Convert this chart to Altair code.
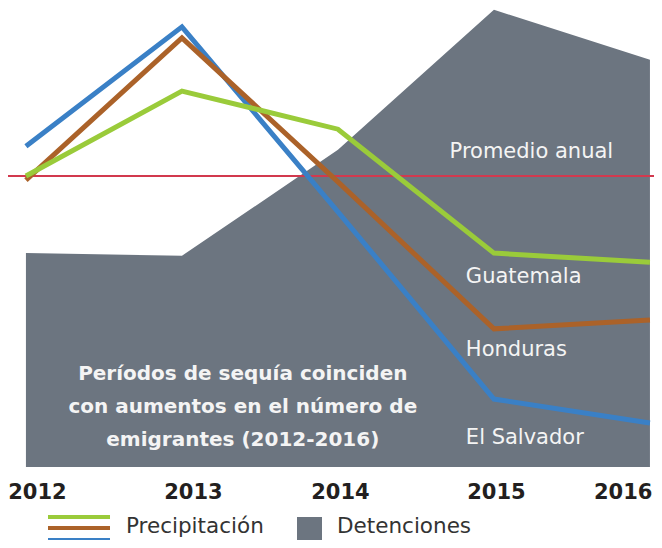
import altair as alt
import pandas as pd

# ---- data (y in relative index units 0-100) ----
years = [2012, 2013, 2014, 2015, 2016]
detenciones = [46.6, 46.0, 69.1, 99.6, 88.7]
guatemala = [63.4, 81.9, 73.6, 46.6, 44.6]
honduras = [62.5, 93.5, 62.1, 30.1, 32.0]
el_salvador = [69.9, 95.9, 55.6, 14.8, 9.6]
promedio_anual = 63.4

paises = ["El Salvador", "Honduras", "Guatemala"]
series = [el_salvador, honduras, guatemala]
colores = ["#3a80c6", "#ab6229", "#9acb3a"]

legend_labels = ["Precipitación", "Detenciones"]
nota = ["Períodos de sequía coinciden", "con aumentos en el número de", "emigrantes (2012-2016)"]

FONT = "DejaVu Sans"
GRAY = "#6c7580"

x_scale = alt.Scale(domain=[2011.885, 2016.026], nice=False, zero=False)
y_scale = alt.Scale(domain=[0, 100], nice=False, zero=False)

area_df = pd.DataFrame({"year": years, "value": detenciones})

x_axis = alt.Axis(
    values=years, format="d", title=None, domain=False, ticks=False, grid=False,
    labelFont=FONT, labelFontSize=21, labelFontWeight="bold", labelColor="#231f20",
    labelPadding=14, labelFlush=False,
    labelAlign={"condition": {"test": "datum.value == 2016", "value": "right"}, "value": "center"},
    labelOffset={"condition": {"test": "datum.value <= 2013", "value": 11}, "value": 2},
)

X = alt.X("year:Q", scale=x_scale)
Y = alt.Y("value:Q", scale=y_scale, axis=None)

area = alt.Chart(area_df).mark_area(color=GRAY, opacity=1).encode(
    x=alt.X("year:Q", scale=x_scale, axis=x_axis),
    y=Y,
)

prom = alt.Chart(pd.DataFrame({"value": [promedio_anual]})).mark_rule(
    color="#d2394e", strokeWidth=2
).encode(y=Y)

line_layers = []
for pais, vals, col in zip(paises, series, colores):
    df = pd.DataFrame({"year": years, "value": vals, "pais": pais})
    line_layers.append(
        alt.Chart(df).mark_line(color=col, strokeWidth=5, strokeCap="butt", strokeJoin="miter").encode(
            x=X, y=Y,
        )
    )

# annotations (positions in data units)
ann_df = pd.DataFrame({
    "year": [2015.24, 2014.82, 2014.82, 2014.82],
    "value": [68.6, 41.4, 25.5, 6.3],
    "text": ["Promedio anual", "Guatemala", "Honduras", "El Salvador"],
    "align": ["center", "left", "left", "left"],
})
ann_center = alt.Chart(ann_df[ann_df["align"] == "center"]).mark_text(
    font=FONT, fontSize=21, color="#f4f4f4", align="center", baseline="middle"
).encode(x=X, y=Y, text="text:N")
ann_left = alt.Chart(ann_df[ann_df["align"] == "left"]).mark_text(
    font=FONT, fontSize=21, color="#f4f4f4", align="left", baseline="middle"
).encode(x=X, y=Y, text="text:N")

nota_df = pd.DataFrame({"year": [2013.39] * 3, "value": [20.3, 13.1, 5.9], "text": nota})
nota_txt = alt.Chart(nota_df).mark_text(
    font=FONT, fontSize=20, fontWeight="bold", color="#f4f4f4", align="center", baseline="middle"
).encode(x=X, y=Y, text="text:N")

# legend (drawn below the plot)
leg_df = pd.DataFrame({"k": [0]})
leg_lines = [
    alt.Chart(leg_df).mark_rule(color=c, strokeWidth=4).encode(
        x=alt.value(40), x2=alt.value(102), y=alt.value(yy)
    )
    for c, yy in zip([colores[2], colores[1], colores[0]], [509, 520, 532])
]
leg_sq = alt.Chart(leg_df).mark_rect(color=GRAY).encode(
    x=alt.value(289), x2=alt.value(314), y=alt.value(509), y2=alt.value(532)
)
leg_t1 = alt.Chart(leg_df).mark_text(
    font=FONT, fontSize=21.5, color="#333333", align="left", baseline="middle", text=legend_labels[0]
).encode(x=alt.value(118), y=alt.value(519))
leg_t2 = alt.Chart(leg_df).mark_text(
    font=FONT, fontSize=21.5, color="#333333", align="left", baseline="middle", text=legend_labels[1]
).encode(x=alt.value(329), y=alt.value(519))

chart = alt.layer(
    area, prom, *line_layers, ann_center, ann_left, nota_txt, *leg_lines, leg_sq, leg_t1, leg_t2
).properties(
    width=646, height=459,
    background="white",
    autosize=alt.AutoSizeParams(type="none"),
    padding={"left": 0, "top": 0, "right": 0, "bottom": 73},
).configure_view(stroke=None)

chart.save("out.html", embed_options={"renderer": "svg", "actions": False})
